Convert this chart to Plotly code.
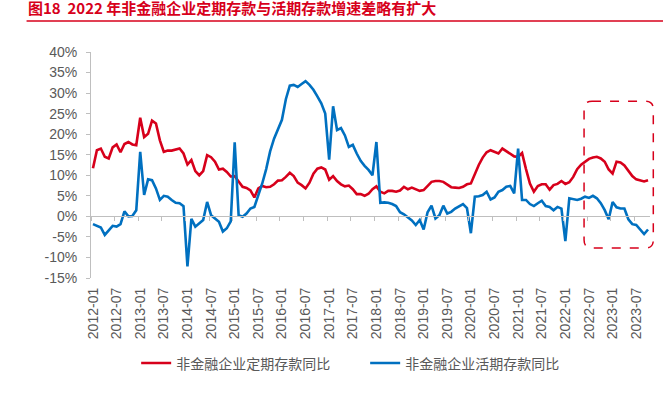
import plotly.graph_objects as go

# ---------------- data ----------------
months = [f"{y}-{m:02d}" for y in range(2012, 2024) for m in range(1, 13)][:142]

fixed_yoy = [  # 非金融企业定期存款同比 (%)
    11.7, 16.1, 16.5, 14.5, 14.1, 16.8, 17.5, 15.6, 17.6, 18.1, 17.5, 17.3,   # 2012
    24.0, 19.3, 20.1, 23.3, 22.6, 18.5, 15.7, 16.0, 16.0, 16.2, 16.5, 15.3,   # 2013
    12.6, 13.7, 11.0, 10.0, 11.0, 14.9, 14.4, 13.3, 11.4, 11.6, 10.8, 9.7,    # 2014
    9.8, 8.5, 7.2, 6.9, 6.3, 4.6, 6.8, 7.4, 7.1, 7.2, 7.8, 8.7,               # 2015
    8.8, 9.6, 10.6, 9.8, 8.2, 7.6, 6.8, 8.2, 10.4, 11.6, 11.9, 11.4,          # 2016
    8.9, 9.8, 8.6, 7.8, 7.3, 7.5, 6.6, 5.4, 5.4, 5.0, 5.5, 6.6,               # 2017
    7.3, 6.0, 5.6, 6.2, 6.2, 6.0, 6.3, 7.2, 6.6, 7.0, 6.6, 6.2,               # 2018
    6.4, 7.5, 8.4, 8.6, 8.6, 8.4, 7.7, 7.1, 7.0, 6.9, 7.2, 7.8,               # 2019
    8.0, 10.5, 12.5, 14.3, 15.6, 16.1, 15.7, 15.3, 16.5, 15.9, 15.3, 14.6,    # 2020
    14.5, 15.4, 11.5, 8.0, 6.0, 7.4, 7.8, 7.8, 6.5, 7.6, 7.9, 8.6,            # 2021
    7.9, 8.3, 9.6, 11.5, 12.6, 13.2, 14.0, 14.3, 14.5, 14.1, 13.3, 11.4,      # 2022
    10.4, 13.3, 13.1, 12.4, 11.2, 9.8, 9.0, 8.7, 8.5, 8.8,                    # 2023
]

demand_yoy = [  # 非金融企业活期存款同比 (%)
    -1.9, -2.3, -2.7, -4.5, -3.3, -2.3, -2.5, -1.9, 1.2, 0.0, 0.1, 1.5,       # 2012
    15.7, 5.2, 9.0, 8.8, 6.8, 4.0, 5.0, 4.8, 4.0, 3.3, 3.2, 2.5,              # 2013
    -12.2, -0.6, -2.5, -1.7, -0.9, 3.5, 0.3, -0.5, -1.3, -3.7, -2.9, -1.2,    # 2014
    18.0, 0.3, -0.1, 0.7, 1.9, 2.3, 5.0, 8.0, 11.5, 15.8, 18.9, 21.4,         # 2015
    23.5, 28.5, 31.8, 32.0, 31.5, 32.2, 32.9, 32.0, 30.8, 29.2, 27.5, 25.0,   # 2016
    13.8, 26.8, 21.0, 21.5, 19.7, 16.9, 17.4, 15.3, 13.5, 12.3, 11.3, 10.0,   # 2017
    18.1, 3.3, 3.4, 3.3, 3.0, 2.5, 1.0, 0.5, -0.2, -1.0, -2.1, -0.9,          # 2018
    -3.2, 1.0, 2.6, -0.5, 0.3, 2.6, 0.7, 1.1, 1.9, 2.5, 3.0, 2.0,             # 2019
    -4.1, 4.8, 4.9, 5.2, 6.0, 4.1, 4.6, 6.0, 6.4, 7.2, 7.4, 5.6,              # 2020
    16.5, 4.0, 4.0, 3.0, 2.5, 3.2, 3.8, 2.5, 2.3, 1.5, 2.3, 1.9,              # 2021
    -6.0, 4.4, 4.2, 4.0, 4.3, 4.8, 4.5, 5.0, 4.4, 3.2, 1.5, -0.7,             # 2022
    3.5, 2.2, 1.9, 1.9, -0.7, -1.9, -2.1, -3.3, -4.3, -3.2,                   # 2023
]

x_tick_labels = months[::6]
y_tick_values = [-15, -10, -5, 0, 5, 10, 15, 20, 25, 30, 35, 40]
y_tick_text = [f"{v}%" for v in y_tick_values]
series_names = ["非金融企业定期存款同比", "非金融企业活期存款同比"]
title_text = "图18\u00a0\u00a02022 年非金融企业定期存款与活期存款增速差略有扩大"

# ---------------- style ----------------
RED = "#D7001B"
BLUE = "#0070C0"
GRID = "#BFBFBF"
TXT = "#595959"
W, H = 663, 399
L, R, T, B = 90.5, 650.0, 51.7, 278.3
LATIN = "Liberation Sans, Arial, sans-serif"
CJK = "Noto Sans CJK SC, sans-serif"


def px(x):
    return (x - L) / (R - L)


def py(y):
    return (B - y) / (B - T)


n = len(months)
ymin, ymax = y_tick_values[0], y_tick_values[-1]

fig = go.Figure()
fig.add_trace(go.Scatter(x=months, y=fixed_yoy, mode="lines", name=series_names[0],
                         line=dict(color=RED, width=2.6)))
fig.add_trace(go.Scatter(x=months, y=demand_yoy, mode="lines", name=series_names[1],
                         line=dict(color=BLUE, width=2.6)))
# helper trace so the zero-crossing axis (with tick marks between categories) is drawn
fig.add_trace(go.Scatter(x=[None], y=[None], xaxis="x2", showlegend=False,
                         hoverinfo="skip"))

fig.update_layout(
    width=W, height=H,
    margin=dict(l=L, r=W - R, t=T, b=H - B, pad=0),
    paper_bgcolor="white", plot_bgcolor="white",
    showlegend=True,
    xaxis=dict(
        type="category", range=[-0.5, n - 0.5],
        tickmode="array", tickvals=x_tick_labels, ticktext=x_tick_labels,
        tickangle=-90, ticks="", showline=False, showgrid=False, zeroline=False,
        tickfont=dict(family=LATIN, size=14, color=TXT),
        ticklabelstandoff=6,
    ),
    xaxis2=dict(
        overlaying="x", anchor="free", position=(0 - ymin) / (ymax - ymin),
        range=[-0.5, n - 0.5], tickmode="array",
        tickvals=[k - 0.5 for k in range(0, n + 1, 6)],
        ticks="outside", ticklen=4, tickcolor=GRID, tickwidth=1,
        showticklabels=False, showline=True, linecolor=GRID, linewidth=1,
        showgrid=False, zeroline=False,
    ),
    yaxis=dict(
        range=[ymin, ymax], tickmode="array", tickvals=y_tick_values,
        ticktext=y_tick_text, ticks="outside", ticklen=4, tickcolor=GRID,
        showline=True, linecolor=GRID, linewidth=1, showgrid=False, zeroline=False,
        tickfont=dict(family=LATIN, size=14, color=TXT),
        ticklabelstandoff=6,
    ),
    legend=dict(
        orientation="h", x=px(135.7), xanchor="left", y=py(364), yanchor="middle",
        font=dict(family=CJK, size=14, color=TXT), entrywidth=184,
        entrywidthmode="pixels", bgcolor="rgba(0,0,0,0)", borderwidth=0,
    ),
)

fig.add_annotation(
    text=f"<b>{title_text}</b>", xref="paper", yref="paper",
    x=px(25), y=py(7.5), xanchor="left", yanchor="middle", showarrow=False,
    font=dict(family=CJK, size=15, color=RED),
)
fig.add_shape(type="line", xref="paper", yref="paper",
              x0=px(26), x1=px(663), y0=py(20.7), y1=py(20.7),
              line=dict(color=RED, width=1.5))

# dashed rounded highlight box
bx0, bx1, by0, by1, rad = px(584), px(653.3), py(248.3), py(101), 8
rx, ry = rad / (R - L), rad / (B - T)
path = (f"M{bx0+rx},{by1} L{bx1-rx},{by1} Q{bx1},{by1} {bx1},{by1-ry} "
        f"L{bx1},{by0+ry} Q{bx1},{by0} {bx1-rx},{by0} L{bx0+rx},{by0} "
        f"Q{bx0},{by0} {bx0},{by0+ry} L{bx0},{by1-ry} Q{bx0},{by1} {bx0+rx},{by1} Z")
fig.add_shape(type="path", xref="paper", yref="paper", path=path,
              line=dict(color=RED, width=1.5, dash="dash"))

fig.write_html("out.html", config={"displayModeBar": False},
               post_script="document.body.style.margin='0';")
